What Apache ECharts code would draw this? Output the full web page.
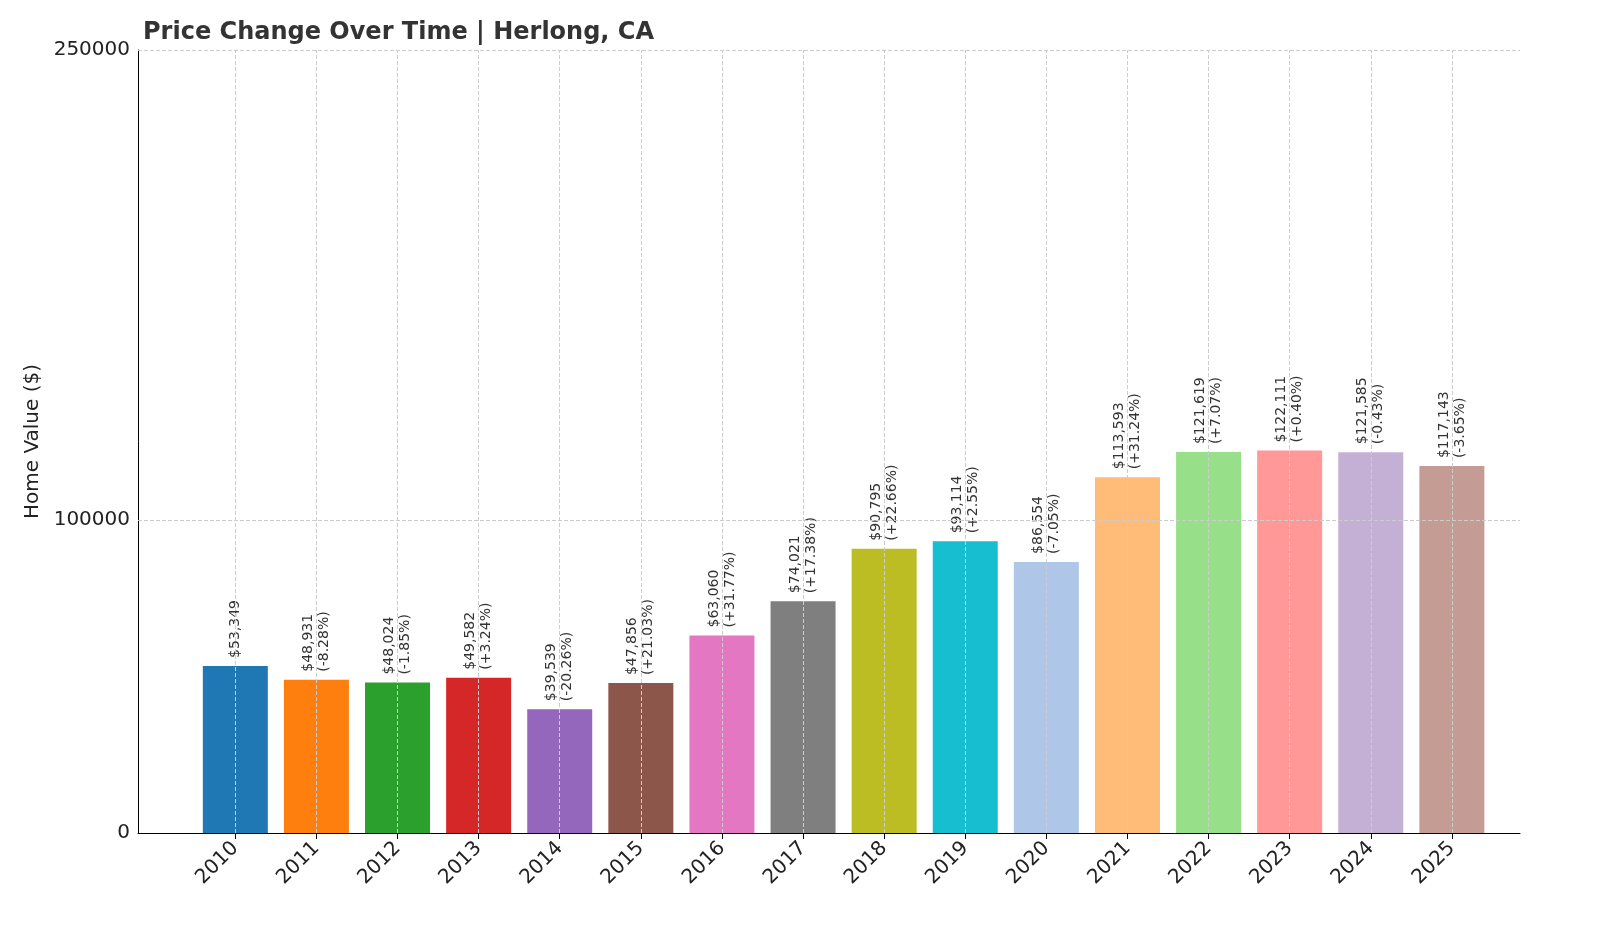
<!DOCTYPE html>
<html>
<head>
<meta charset="utf-8">
<script src="https://cdn.jsdelivr.net/npm/echarts@6/dist/echarts.min.js"></script>
<style>
html,body{margin:0;padding:0;background:#fff;}
#chart{width:1600px;height:933px;}
</style>
</head>
<body>
<div id="chart"></div>
<script>
// data
const years = [2010,2011,2012,2013,2014,2015,2016,2017,2018,2019,2020,2021,2022,2023,2024,2025];
const values = [53349,48931,48024,49582,39539,47856,63060,74021,90795,93114,86554,113593,121619,122111,121585,117143];
const changes = ['','-8.28%','-1.85%','+3.24%','-20.26%','+21.03%','+31.77%','+17.38%','+22.66%','+2.55%','-7.05%','+31.24%','+7.07%','+0.40%','-0.43%','-3.65%'];
const colors = ['#1f77b4','#ff7f0e','#2ca02c','#d62728','#9467bd','#8c564b','#e377c2','#7f7f7f','#bcbd22','#17becf','#aec7e8','#ffbb78','#98df8a','#ff9896','#c5b0d5','#c49c94'];
const yTicks = [0, 100000, 250000];

const chart = echarts.init(document.getElementById('chart'));
const font = 'DejaVu Sans';

chart.setOption({
    animation: false,
    textStyle: { fontFamily: font },
    title: {
        text: 'Price Change Over Time | Herlong, CA',
        left: 138, top: 16,
        textStyle: { fontFamily: font, fontSize: 24, fontWeight: 'bold', color: '#333' }
    },
    grid: { left: 138, right: 80, top: 50, bottom: 100 },
    xAxis: {
        type: 'value',
        min: 2008.8, max: 2025.84,
        splitLine: { show: false },
        axisLine: { onZero: false, lineStyle: { color: '#000' } },
        axisTick: { show: true, customValues: years, length: 6, lineStyle: { color: '#000' } },
        axisLabel: { customValues: years, rotate: 45, fontSize: 20, color: '#222', margin: 12,
            formatter: v => String(v) }
    },
    yAxis: {
        type: 'value',
        min: 0, max: 250000,
        name: 'Home Value ($)',
        nameLocation: 'middle',
        nameGap: 95,
        nameTextStyle: { fontSize: 20, color: '#222' },
        axisLine: { show: true, lineStyle: { color: '#000' } },
        axisTick: { show: false },
        splitLine: { show: false },
        axisLabel: { customValues: yTicks, fontSize: 20, color: '#222', formatter: v => String(v) }
    },
    series: [{
        type: 'bar',
        barWidth: 65,
        data: values.map((v, i) => ({ value: [years[i], v], itemStyle: { color: colors[i] } })),
        label: {
            show: true,
            position: 'top',
            rotate: 90,
            align: 'left',
            verticalAlign: 'middle',
            distance: 8,
            fontSize: 14,
            color: '#333',
            lineHeight: 16,
            formatter: p => {
                const s = '$' + p.value[1].toLocaleString('en-US');
                return changes[p.dataIndex] ? s + '\n(' + changes[p.dataIndex] + ')' : s;
            }
        },
        markLine: {
            silent: true,
            symbol: 'none',
            label: { show: false },
            lineStyle: { type: 'dashed', color: '#ccc', width: 1 },
            data: yTicks.filter(v => v > 0).map(v => ({ yAxis: v }))
                .concat(years.map(y => ({ xAxis: y })))
        }
    }]
});
</script>
</body>
</html>
